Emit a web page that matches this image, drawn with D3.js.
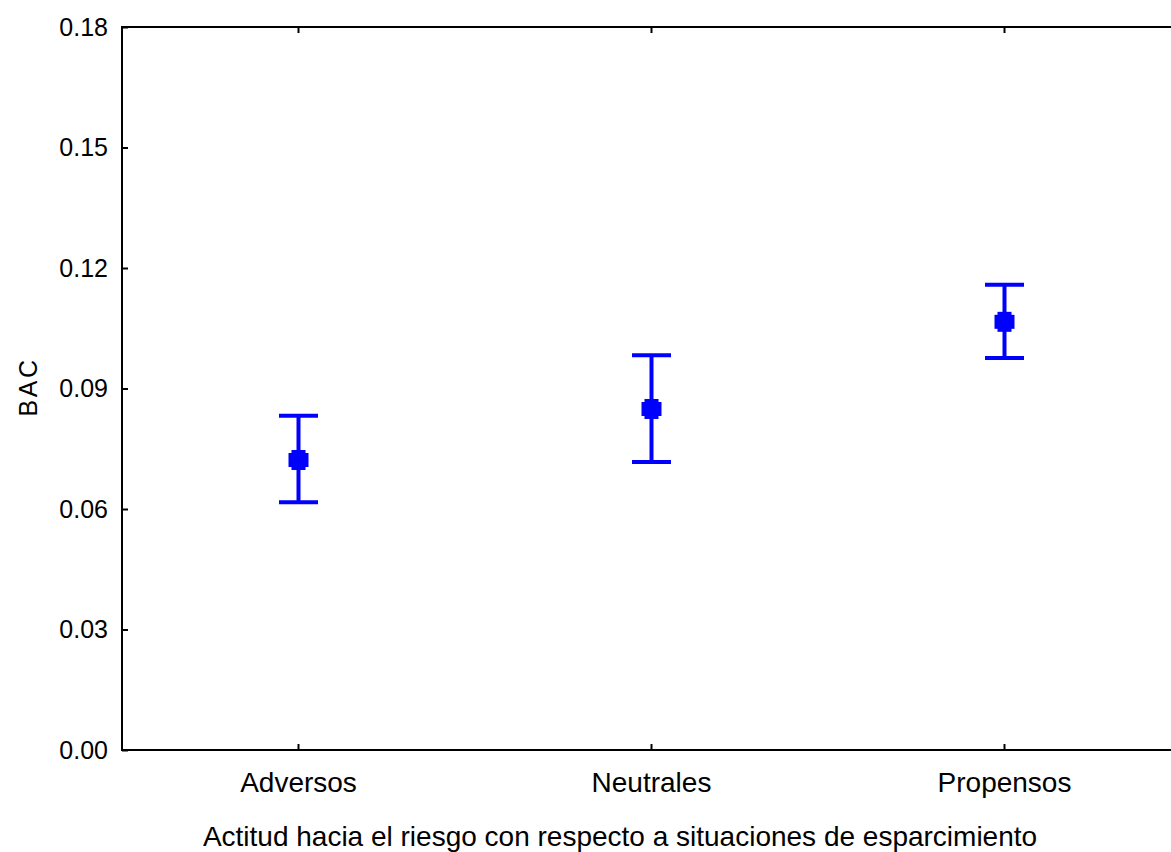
<!DOCTYPE html>
<html><head><meta charset="utf-8">
<script src="https://cdn.jsdelivr.net/npm/d3@7"></script>
<style>body{margin:0;background:#fff;} svg{display:block;font-family:"Liberation Sans",Arial,sans-serif;}</style>
</head><body>
<script>
const categories = ["Adversos", "Neutrales", "Propensos"];
const means = [0.0722, 0.0849, 0.1066];
const upper = [0.0832, 0.0983, 0.1158];
const lower = [0.0617, 0.0717, 0.0976];
const yTicks = [0.00, 0.03, 0.06, 0.09, 0.12, 0.15, 0.18];
const xTitle = "Actitud hacia el riesgo con respecto a situaciones de esparcimiento";
const yTitle = "BAC";

const W = 1171, H = 852;
const L = 122, T = 27, B = 750, R = 1181;
const FONT = "Liberation Sans, Arial, sans-serif";
const svg = d3.select("body").append("svg").attr("width", W).attr("height", H);

const x = d3.scaleBand().domain(categories).range([L, R]).padding(0);
const y = d3.scaleLinear().domain([0, 0.18]).range([B, T]);
const cx = c => x(c) + x.bandwidth() / 2;

// frame lines
svg.append("line").attr("x1", L - 1).attr("x2", R).attr("y1", T).attr("y2", T).attr("stroke", "#000").attr("stroke-width", 2);
svg.append("line").attr("x1", L - 1).attr("x2", R).attr("y1", B).attr("y2", B).attr("stroke", "#000").attr("stroke-width", 2);
svg.append("line").attr("x1", L).attr("x2", L).attr("y1", T).attr("y2", B).attr("stroke", "#000").attr("stroke-width", 2);

// y axis
const yAxis = svg.append("g").attr("transform", `translate(${L},0)`)
  .call(d3.axisLeft(y).tickValues(yTicks).tickFormat(d3.format(".2f")).tickSizeInner(-6).tickSizeOuter(0).tickPadding(14));
yAxis.select(".domain").remove();
yAxis.selectAll("line").attr("stroke-width", 2);
yAxis.selectAll("text").attr("font-size", 25).attr("fill", "#000").attr("font-family", FONT);

// bottom axis
const xAxis = svg.append("g").attr("transform", `translate(0,${B})`)
  .call(d3.axisBottom(x).tickSizeInner(-6).tickSizeOuter(0).tickPadding(22));
xAxis.select(".domain").remove();
xAxis.selectAll("line").attr("stroke-width", 2);
xAxis.selectAll("text").attr("font-size", 28).attr("fill", "#000").attr("font-family", FONT);

// top ticks
svg.append("g").selectAll("line").data(categories).join("line")
  .attr("x1", cx).attr("x2", cx).attr("y1", T).attr("y2", T + 6).attr("stroke", "#000").attr("stroke-width", 2);

// titles
svg.append("text").attr("x", 620).attr("y", 846).attr("text-anchor", "middle").attr("font-size", 28).text(xTitle);
svg.append("text").attr("transform", `translate(37,387) rotate(-90)`).attr("text-anchor", "middle")
  .attr("font-size", 25).attr("letter-spacing", 2.5).text(yTitle);

// error bars
const blue = "#0000ff";
const g = svg.append("g");
categories.forEach((c, i) => {
  const X = cx(c);
  g.append("line").attr("x1", X).attr("x2", X).attr("y1", y(upper[i])).attr("y2", y(lower[i])).attr("stroke", blue).attr("stroke-width", 4);
  [upper[i], lower[i]].forEach(v => {
    g.append("line").attr("x1", X - 19.5).attr("x2", X + 19.5).attr("y1", y(v)).attr("y2", y(v)).attr("stroke", blue).attr("stroke-width", 4);
  });
  const m = y(means[i]);
  g.append("rect").attr("x", X - 7).attr("y", m - 10).attr("width", 14).attr("height", 20).attr("fill", blue);
  g.append("rect").attr("x", X - 10).attr("y", m - 7).attr("width", 20).attr("height", 14).attr("fill", blue);
});
</script>
</body></html>
